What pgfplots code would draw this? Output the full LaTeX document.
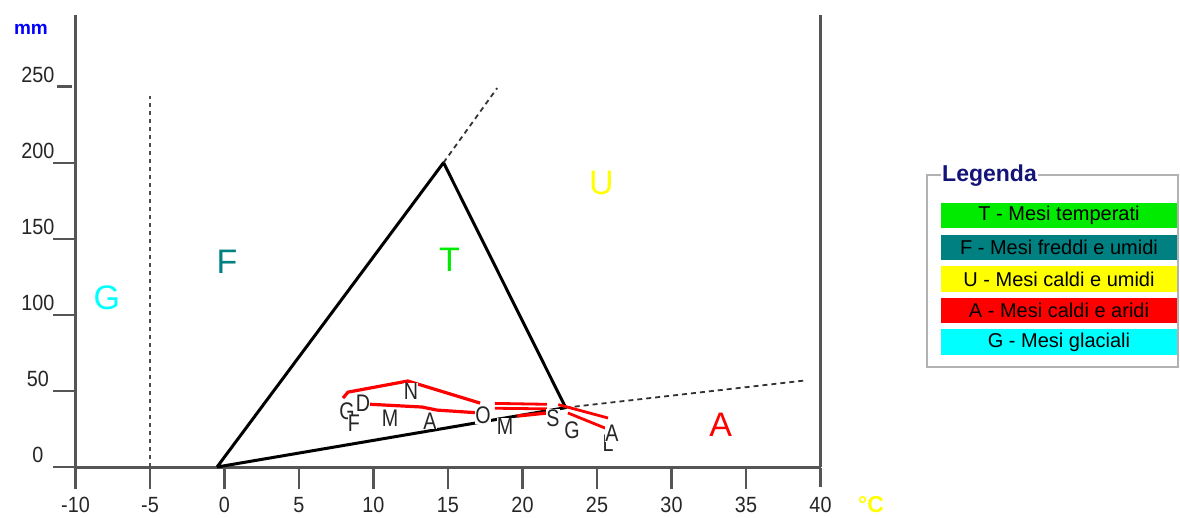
\documentclass[border=0pt]{standalone}
\usepackage{pgfplots}
\pgfplotsset{compat=1.18}
\usepackage{fontspec}
\setmainfont{Liberation Sans}
\newfontfamily\narrowfont[FakeStretch=0.82]{Liberation Sans}
\newfontfamily\tickfont[FakeStretch=0.9]{Liberation Sans}
\definecolor{axgray}{RGB}{85,85,85}
\definecolor{tgreen}{RGB}{0,235,0}
\definecolor{fteal}{RGB}{0,128,128}
\definecolor{uyellow}{RGB}{255,255,0}
\definecolor{ared}{RGB}{255,0,0}
\definecolor{gcyan}{RGB}{0,255,255}
\definecolor{navy}{RGB}{20,20,120}
\begin{document}
\begin{tikzpicture}[x=1pt,y=1pt]
\begin{axis}[
  at={(75.5pt,50pt)}, anchor=south west,
  scale only axis, width=745pt, height=452pt,
  xmin=-10, xmax=40, ymin=0, ymax=297,
  axis x line*=bottom, axis y line*=left,
  axis line style={draw=axgray, line width=3pt},
  xtick={-10,-5,...,40}, ytick={0,50,...,250},
  tick align=outside, major tick length=22pt,
  xtick style={draw=axgray, line width=2.2pt, shorten <=2pt, shorten >=1pt},
  ytick style={draw=axgray, line width=2.2pt, shorten <=4pt, shorten >=4pt},
  /pgf/number format/assume math mode=true,
  ticklabel style={font=\tickfont\fontsize{22}{22}\selectfont, text=black!85},
  xticklabel style={anchor=center, yshift=-16pt},
  yticklabel style={anchor=center, xshift=-15.5pt, yshift=12pt},
  clip=false,
]
% Peguy triangle
\addplot[black, line width=3pt, line join=round] coordinates {(-0.5,0) (14.7,200) (22.9,39) (-0.5,0)};
% dashed extensions
\addplot[black!80, line width=1.8pt, dash pattern=on 5pt off 4pt] coordinates {(14.7,200) (18.3,249)};
\addplot[black!80, line width=1.8pt, dash pattern=on 5pt off 4pt] coordinates {(22.9,39) (39.1,57)};
\addplot[black!70, line width=1.8pt, dash pattern=on 4pt off 4pt] coordinates {(-5,0) (-5,244)};
% monthly path (red)
\addplot[ared, line width=3.2pt, line join=round] coordinates {(7.95,45.3) (8.29,49.2) (12.3,56.5) (17.15,42.0)};
\addplot[ared, line width=3.2pt, line join=round] coordinates {(9.43,41.4) (13.26,39.4) (14.26,37.4) (17.15,35.5)};
\addplot[ared, line width=2.8pt] coordinates {(18.15,41.8) (21.64,41.2)};
\addplot[ared, line width=2.8pt] coordinates {(18.15,38.6) (21.64,38.2)};
\addplot[ared, line width=3.4pt] coordinates {(19.63,33.5) (21.64,35.5)};
\addplot[ared, line width=2.8pt] coordinates {(22.4,41.0) (25.74,32.2)};
\addplot[ared, line width=2.8pt] coordinates {(23.05,35.5) (25.54,25.6)};
% month labels
\begin{scope}[every node/.style={fill=white, inner sep=0.2pt, font=\narrowfont\fontsize{24}{24}\selectfont, text=black!85}]
\node at (axis cs:8.22,36.8) {G};
\node at (axis cs:8.69,28.9) {F};
\node at (axis cs:11.11,32.2) {M};
\node at (axis cs:13.79,30.2) {A};
\node at (axis cs:18.83,26.9) {M};
\node at (axis cs:23.32,24.3) {G};
\node at (axis cs:25.74,15.8) {L};
\node at (axis cs:26.01,22.3) {A};
\node at (axis cs:22.05,32.2) {S};
\node at (axis cs:17.35,34.1) {O};
\node at (axis cs:12.52,49.9) {N};
\node at (axis cs:9.30,42.0) {D};
\end{scope}
% zone letters
\begin{scope}[every node/.style={font=\fontsize{34}{34}\selectfont}]
\node[text=gcyan] at (axis cs:-7.89,111) {G};
\node[text=fteal] at (axis cs:0.17,134.6) {F};
\node[text=tgreen] at (axis cs:15.1,135.9) {T};
\node[text=uyellow] at (axis cs:25.3,186.5) {U};
\node[text=ared] at (axis cs:33.3,27.6) {A};
\end{scope}
% right border
\draw[axgray, line width=3pt] (rel axis cs:1,0) -- (rel axis cs:1,1);
\end{axis}
% axis titles
\node[text=blue, font=\bfseries\fontsize{19}{19}\selectfont] at (31,488) {mm};
\node[text=uyellow, font=\bfseries\fontsize{23}{23}\selectfont] at (871,12) {°C};
% legend
\draw[black!30, line width=1.8pt] (927,150) rectangle (1178,342);
\node[anchor=west, fill=white, inner sep=1pt, text=navy, font=\bfseries\fontsize{23}{23}\selectfont] at (941,341) {Legenda};
\begin{scope}[every node/.style={font=\fontsize{20}{20}\selectfont, text=black}]
\fill[tgreen]  (941,288.5) rectangle (1177,314);   \node at (1059,301.25) {T - Mesi temperati};
\fill[fteal]   (941,256.9) rectangle (1177,282.4); \node at (1059,269.65) {F - Mesi freddi e umidi};
\fill[uyellow] (941,225.3) rectangle (1177,250.8); \node at (1059,238.05) {U - Mesi caldi e umidi};
\fill[ared]    (941,193.7) rectangle (1177,219.2); \node at (1059,206.45) {A - Mesi caldi e aridi};
\fill[gcyan]   (941,162.1) rectangle (1177,187.6); \node at (1059,174.85) {G - Mesi glaciali};
\end{scope}
\pgfresetboundingbox
\path[use as bounding box] (0,0) rectangle (1180,517);
\end{tikzpicture}
\end{document}
